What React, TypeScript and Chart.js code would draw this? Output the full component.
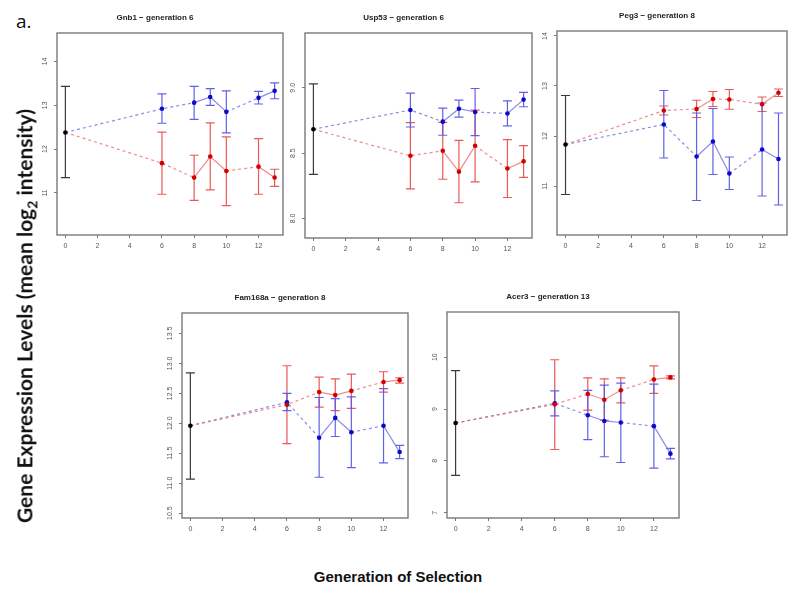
import React, { useEffect, useRef } from "react";
import { Chart, registerables } from "chart.js";
Chart.register(...registerables);

// ---------- data ----------
const generations = [0, 6, 8, 9, 10, 12, 13];
const xTickValues = [0, 2, 4, 6, 8, 10, 12];
const geneTitles = [
  "Gnb1 − generation 6",
  "Usp53 − generation 6",
  "Peg3 − generation 8",
  "Fam168a − generation 8",
  "Acer3 − generation 13",
];

// generation-0 baseline (black), one value per gene
const baseMean = [12.38, 8.683, 11.83, 11.96, 8.73];
const baseLo = [11.35, 8.337, 10.83, 11.07, 7.72];
const baseHi = [13.43, 9.03, 12.81, 12.84, 9.74];

// generations 6, 8, 9, 10, 12, 13
const gnb1Blue = [12.92, 13.06, 13.19, 12.85, 13.17, 13.33];
const gnb1BlueLo = [12.59, 12.68, 13.0, 12.37, 13.03, 13.15];
const gnb1BlueHi = [13.26, 13.43, 13.38, 13.33, 13.32, 13.51];
const gnb1Red = [11.68, 11.35, 11.83, 11.5, 11.6, 11.35];
const gnb1RedLo = [10.97, 10.83, 11.07, 10.71, 10.97, 11.15];
const gnb1RedHi = [12.39, 11.86, 12.6, 12.28, 12.24, 11.54];

const usp53Blue = [8.83, 8.741, 8.84, 8.815, 8.804, 8.91];
const usp53BlueLo = [8.7, 8.637, 8.775, 8.634, 8.708, 8.855];
const usp53BlueHi = [8.96, 8.845, 8.906, 8.995, 8.9, 8.965];
const usp53Red = [8.48, 8.518, 8.358, 8.556, 8.382, 8.437];
const usp53RedLo = [8.226, 8.3, 8.12, 8.28, 8.16, 8.315];
const usp53RedHi = [8.733, 8.736, 8.597, 8.83, 8.604, 8.558];

const peg3Blue = [12.23, 11.59, 11.89, 11.25, 11.73, 11.54];
const peg3BlueLo = [11.56, 10.71, 11.23, 10.93, 10.8, 10.62];
const peg3BlueHi = [12.91, 12.46, 12.55, 11.58, 12.66, 12.46];
const peg3Red = [12.51, 12.54, 12.74, 12.73, 12.635, 12.865];
const peg3RedLo = [12.42, 12.37, 12.59, 12.535, 12.49, 12.79];
const peg3RedHi = [12.6, 12.715, 12.89, 12.93, 12.78, 12.94];

const fam168aBlue = [12.35, 11.76, 12.09, 11.85, 11.96, 11.52];
const fam168aBlueLo = [12.21, 11.1, 11.78, 11.26, 11.34, 11.41];
const fam168aBlueHi = [12.5, 12.43, 12.41, 12.44, 12.58, 11.63];
const fam168aRed = [12.31, 12.52, 12.47, 12.54, 12.69, 12.72];
const fam168aRedLo = [11.66, 12.27, 12.21, 12.25, 12.52, 12.67];
const fam168aRedHi = [12.96, 12.77, 12.74, 12.82, 12.86, 12.76];

const acer3Blue = [9.11, 8.88, 8.77, 8.74, 8.67, 8.14];
const acer3BlueLo = [8.87, 8.41, 8.08, 7.97, 7.86, 8.04];
const acer3BlueHi = [9.35, 9.36, 9.46, 9.5, 9.48, 8.24];
const acer3Red = [9.09, 9.29, 9.18, 9.36, 9.57, 9.61];
const acer3RedLo = [8.22, 8.98, 8.78, 9.12, 9.3, 9.58];
const acer3RedHi = [9.95, 9.6, 9.58, 9.6, 9.83, 9.64];

const yTicks1 = [11, 12, 13, 14];
const yTicks2 = [8.0, 8.5, 9.0];
const yTicks3 = [11, 12, 13, 14];
const yTicks4 = [10.5, 11.0, 11.5, 12.0, 12.5, 13.0, 13.5];
const yTicks5 = [7, 8, 9, 10];

// ---------- panel layout / styling ----------
const panels = [
  { title: geneTitles[0], box: { L: 57, T: 33, R: 283, B: 235 }, yMin: 10.04, yMax: 14.65, yTicks: yTicks1, dec: 0,
    blue: [gnb1Blue, gnb1BlueLo, gnb1BlueHi], red: [gnb1Red, gnb1RedLo, gnb1RedHi], redExtraDash: [] as number[] },
  { title: geneTitles[1], box: { L: 305, T: 33, R: 532, B: 238 }, yMin: 7.85, yMax: 9.42, yTicks: yTicks2, dec: 1,
    blue: [usp53Blue, usp53BlueLo, usp53BlueHi], red: [usp53Red, usp53RedLo, usp53RedHi], redExtraDash: [] as number[] },
  { title: geneTitles[2], box: { L: 557, T: 31, R: 787, B: 235 }, yMin: 10.02, yMax: 14.1, yTicks: yTicks3, dec: 0,
    blue: [peg3Blue, peg3BlueLo, peg3BlueHi], red: [peg3Red, peg3RedLo, peg3RedHi], redExtraDash: [3] },
  { title: geneTitles[3], box: { L: 182, T: 313, R: 408, B: 518 }, yMin: 10.42, yMax: 13.84, yTicks: yTicks4, dec: 1,
    blue: [fam168aBlue, fam168aBlueLo, fam168aBlueHi], red: [fam168aRed, fam168aRedLo, fam168aRedHi], redExtraDash: [] as number[] },
  { title: geneTitles[4], box: { L: 447, T: 312, R: 679, B: 518 }, yMin: 6.9, yMax: 10.87, yTicks: yTicks5, dec: 0,
    blue: [acer3Blue, acer3BlueLo, acer3BlueHi], red: [acer3Red, acer3RedLo, acer3RedHi], redExtraDash: [] as number[] },
];

const PAD_L = 30, PAD_T = 30, PAD_R = 10, PAD_B = 25;
const TICK_FONT = "Liberation Sans, Arial, sans-serif";

const errorBarPlugin = {
  id: "errorBars",
  beforeDatasetsDraw(chart: any) {
    const ctx = chart.ctx;
    const ys = chart.scales.y;
    chart.data.datasets.forEach((ds: any, i: number) => {
      if (!ds.errLo) return;
      const meta = chart.getDatasetMeta(i);
      ctx.save();
      ctx.strokeStyle = ds.errColor;
      ctx.lineWidth = 1.2;
      ds.errLo.forEach((lo: number | null, j: number) => {
        const hi = ds.errHi[j];
        if (lo == null || hi == null) return;
        const x = meta.data[j].x;
        const y1 = ys.getPixelForValue(lo);
        const y2 = ys.getPixelForValue(hi);
        const cw = 4.5;
        ctx.beginPath();
        ctx.moveTo(x, y1); ctx.lineTo(x, y2);
        ctx.moveTo(x - cw, y1); ctx.lineTo(x + cw, y1);
        ctx.moveTo(x - cw, y2); ctx.lineTo(x + cw, y2);
        ctx.stroke();
      });
      ctx.restore();
    });
  },
  afterDraw(chart: any) {
    const ctx = chart.ctx;
    const a = chart.chartArea;
    ctx.save();
    ctx.strokeStyle = "#7a7a7a";
    ctx.lineWidth = 1.4;
    ctx.strokeRect(a.left, a.top, a.right - a.left, a.bottom - a.top);
    const opts = chart.options.plugins.errorBars;
    const ys = chart.scales.y;
    ctx.fillStyle = "#555";
    ctx.font = `7px ${TICK_FONT}`;
    ctx.textAlign = "center";
    ctx.textBaseline = "middle";
    (opts.yTicks as number[]).forEach((v) => {
      const y = ys.getPixelForValue(v);
      ctx.save();
      ctx.translate(a.left - 12, y);
      ctx.rotate(-Math.PI / 2);
      ctx.fillText(v.toFixed(opts.dec), 0, 0);
      ctx.restore();
    });
    ctx.restore();
  },
};

function Panel({ p }: { p: (typeof panels)[number] & { idx: number } }) {
  const ref = useRef<HTMLCanvasElement>(null);
  useEffect(() => {
    const i = p.idx;
    const mk = (vals: number[][]) => ({
      data: [{ x: generations[0], y: baseMean[i] }, ...vals[0].map((v, k) => ({ x: generations[k + 1], y: v }))],
      lo: [null, ...vals[1]],
      hi: [null, ...vals[2]],
    });
    const b = mk(p.blue);
    const r = mk(p.red);
    const dashFn = (extra: number[]) => (c: any) => {
      const g0 = generations[c.p0DataIndex];
      const g1 = generations[c.p1DataIndex];
      return g1 - g0 > 1 || extra.includes(c.p0DataIndex) ? [3, 3] : undefined;
    };
    const ptR = (n: number) => Array.from({ length: n }, (_, k) => (k === 0 ? 0 : 2.3));
    const chart = new Chart(ref.current!, {
      type: "line",
      data: {
        datasets: [
          {
            label: "base",
            data: [{ x: generations[0], y: baseMean[i] }],
            showLine: false,
            pointRadius: 2.3,
            pointBackgroundColor: "#000",
            pointBorderWidth: 0,
            errLo: [baseLo[i]],
            errHi: [baseHi[i]],
            errColor: "#3a3a3a",
          } as any,
          {
            label: "red",
            data: r.data,
            borderColor: "rgba(236,110,110,0.8)",
            borderWidth: 1.2,
            pointRadius: ptR(r.data.length),
            pointBackgroundColor: "#d40000",
            pointBorderWidth: 0,
            segment: { borderDash: dashFn(p.redExtraDash) },
            errLo: r.lo,
            errHi: r.hi,
            errColor: "rgba(232,80,80,0.95)",
          } as any,
          {
            label: "blue",
            data: b.data,
            borderColor: "rgba(110,110,226,0.8)",
            borderWidth: 1.2,
            pointRadius: ptR(b.data.length),
            pointBackgroundColor: "#0a0ac8",
            pointBorderWidth: 0,
            segment: { borderDash: dashFn([]) },
            errLo: b.lo,
            errHi: b.hi,
            errColor: "rgba(88,88,230,0.95)",
          } as any,
        ],
      },
      options: {
        animation: false,
        responsive: false,
        devicePixelRatio: 1,
        layout: { padding: { left: 0, right: PAD_R, top: 0, bottom: 0 } },
        plugins: {
          legend: { display: false },
          tooltip: { enabled: false },
          title: {
            display: true,
            text: p.title,
            color: "#222",
            font: { family: TICK_FONT, size: 8, weight: "bold", lineHeight: 1.2 },
            padding: { top: 10.2, bottom: 10.2 },
          },
          errorBars: { yTicks: p.yTicks, dec: p.dec },
        } as any,
        scales: {
          x: {
            type: "linear",
            min: -0.52,
            max: 13.52,
            afterBuildTicks: (s: any) => { s.ticks = xTickValues.map((v) => ({ value: v })); },
            afterFit: (s: any) => { s.height = PAD_B; },
            grid: { drawOnChartArea: false, drawTicks: true, tickLength: 3, color: "#777", lineWidth: 1 },
            border: { display: false },
            ticks: { color: "#555", font: { family: TICK_FONT, size: 7 }, padding: 4, maxRotation: 0, autoSkip: false },
          },
          y: {
            type: "linear",
            min: p.yMin,
            max: p.yMax,
            afterBuildTicks: (s: any) => { s.ticks = p.yTicks.map((v) => ({ value: v })); },
            afterFit: (s: any) => { s.width = PAD_L; },
            grid: { drawOnChartArea: false, drawTicks: true, tickLength: 3, color: "#777", lineWidth: 1 },
            border: { display: false },
            ticks: { display: false },
          },
        },
      } as any,
      plugins: [errorBarPlugin],
    });
    return () => chart.destroy();
  }, []);
  const { L, T, R, B } = p.box;
  const w = R - L + PAD_L + PAD_R;
  const h = B - T + PAD_T + PAD_B;
  return (
    <canvas
      ref={ref}
      width={w}
      height={h}
      style={{ position: "absolute", left: L - PAD_L, top: T - PAD_T, width: w, height: h }}
    />
  );
}

export default function App() {
  return (
    <div style={{ position: "absolute", left: 0, top: 0, width: 800, height: 597, background: "#fff", overflow: "hidden" }}>
      <div style={{ position: "absolute", left: 16, top: 8, fontFamily: "'Open Sans', sans-serif", fontSize: 19, color: "#111" }}>a.</div>
      {panels.map((p, idx) => (
        <Panel key={idx} p={{ ...p, idx }} />
      ))}
      <div
        style={{
          position: "absolute",
          left: 26,
          top: 316,
          transform: "translate(-50%, -50%) rotate(-90deg)",
          whiteSpace: "nowrap",
          fontFamily: "Lato, 'Open Sans', sans-serif",
          fontWeight: "bold",
          fontSize: 21,
          color: "#111",
        }}
      >
        Gene Expression Levels (mean log<sub style={{ fontSize: 14 }}>2</sub> intensity)
      </div>
      <div
        style={{
          position: "absolute",
          left: 398,
          top: 576,
          transform: "translate(-50%, -50%)",
          whiteSpace: "nowrap",
          fontFamily: "'Liberation Sans', Arial, sans-serif",
          fontWeight: "bold",
          fontSize: 15,
          color: "#111",
        }}
      >
        Generation of Selection
      </div>
    </div>
  );
}
